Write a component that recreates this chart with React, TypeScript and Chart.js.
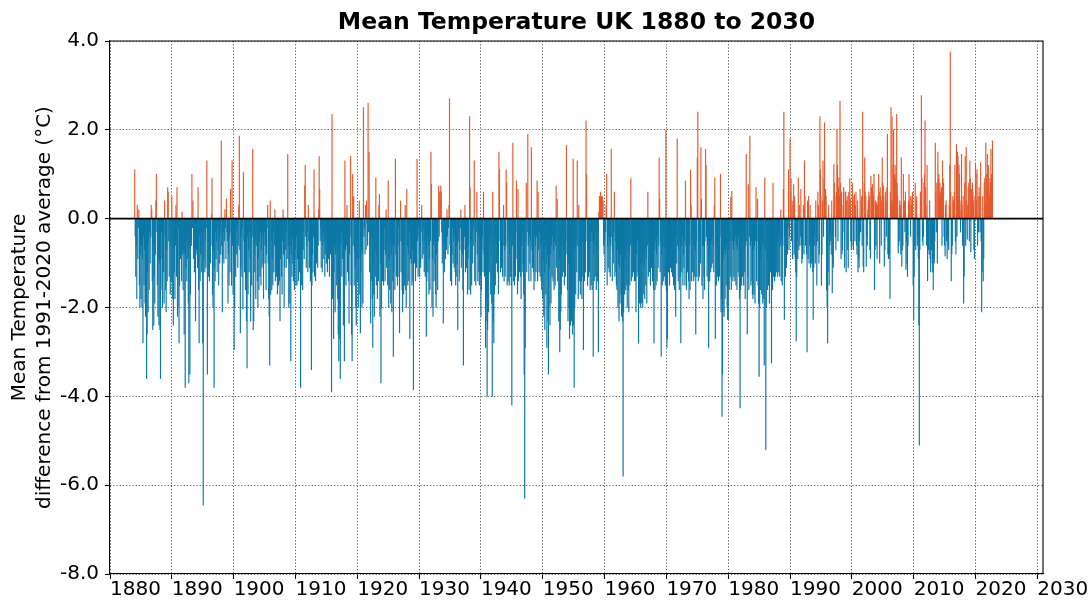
import React, { useEffect, useRef } from 'react';
import { Chart, registerables } from 'chart.js';

Chart.register(...registerables);

// ---------- text ----------
const TITLE = 'Mean Temperature UK 1880 to 2030';
const Y_TITLE = ['Mean Temperature', 'difference from 1991-2020 average (°C)'];

// ---------- axes ----------
const X_MIN = 1880;
const X_MAX = 2030.92;
const X_TICKS = [1880, 1890, 1900, 1910, 1920, 1930, 1940, 1950, 1960, 1970, 1980, 1990, 2000, 2010, 2020, 2030];
const Y_MIN = -8;
const Y_MAX = 4;
const Y_TICKS = [-8, -6, -4, -2, 0, 2, 4];

// ---------- data: monthly anomalies (°C), 12 values per year, from Jan 1884 ----------
const START_YEAR = 1884;

const m1880s = [
  1.1, -0.4, -1.3, -0.6, -1.8, 0.3, -0.9, -0.2, 0.2, -1.5, -2.0, -0.8,
  -1.8, -0.6, -2.0, -0.9, -2.8, -0.4, -1.5, -0.7, -1.9, -2.2, -1.1, -3.6,
  -2.6, -1.2, -2.1, -0.5, -1.6, -0.3, -1.0, -0.4, 0.3, 0.2, -1.4, -2.5,
  -0.6, -2.4, -1.3, -1.9, -0.8, 0.4, 1.0, -0.3, -1.5, -2.2, -0.9, -2.4,
  -1.0, -2.5, -3.6, -0.9, -0.3, -1.6, -2.0, -0.8, -1.2, -1.9, 0.4, -0.4,
  -1.6, -2.1, -0.7, -1.4, 0.7, 0.6, -0.5, -1.3, -0.2, -1.7, -0.6, -1.4,
];

const m1890s = [
  0.5, -1.8, -0.4, -2.4, -0.7, -1.2, -1.8, -0.6, 0.3, -1.3, 0.7, -2.2,
  -2.0, -0.2, -2.8, -1.5, -0.6, -0.9, -0.4, -1.4, 0.15, -0.8, -1.6, -0.7,
  -2.6, -0.8, -3.8, -1.1, -0.5, -1.4, -0.9, -0.3, -1.9, -3.7, -0.6, -3.5,
  -1.7, -0.3, -0.6, 1.0, -0.2, 0.4, -0.9, -0.1, -1.2, -0.5, -2.3, -0.8,
  -0.7, -0.3, -1.1, 0.7, -1.6, -2.8, -0.4, -1.4, -0.8, -0.3, -1.2, -0.6,
  -2.8, -6.45, -0.9, -0.3, -1.2, -0.5, -1.1, -0.2, 1.3, -3.5, -0.4, -1.3,
  -0.5, -1.4, -0.3, -1.0, -0.6, 0.1, 0.9, -1.7, -2.0, -0.7, -3.8, -1.1,
  -1.4, -0.3, -0.9, -0.5, -1.2, -0.2, -0.7, -1.5, -0.4, -1.0, -0.3, -0.8,
  1.75, -0.6, -2.1, -0.9, -0.3, -1.0, -0.5, 0.2, -0.2, -0.9, 0.44, -0.3,
  -0.5, -1.9, -0.8, -1.5, -0.4, -1.2, 0.66, -0.3, -1.5, 1.3, -0.6, -1.7,
];

const m1900s = [
  -1.0, -2.95, -2.0, -0.7, -1.3, -0.3, -0.8, -0.2, -1.1, -0.6, 0.3, 1.86,
  -0.7, -2.57, -1.1, -0.4, -1.3, -0.2, -2.04, 1.04, -0.5, -1.2, -0.3, -1.6,
  -0.6, -2.3, -3.36, -0.4, -1.7, -0.7, -1.2, -0.3, -0.9, -2.3, -0.5, -1.5,
  -0.4, 1.56, -2.5, -2.3, -0.8, -1.2, -0.5, -1.8, -0.6, -0.2, -1.4, -2.0,
  -0.9, -1.6, -0.5, -1.3, -0.3, -1.5, -0.7, -1.1, -0.4, -1.0, -1.8, -0.6,
  -0.3, -1.0, -0.6, -1.6, -0.8, -0.2, 0.3, -1.0, -1.8, -2.2, -3.3, 0.4,
  -1.7, -0.5, -1.6, -0.9, -1.5, -0.3, -1.2, -0.6, 0.2, -1.4, -0.7, -1.3,
  -0.8, -1.7, -0.4, -1.5, -0.6, -1.4, -2.3, -0.9, -0.3, -1.3, -1.7, -0.5,
  0.2, -0.8, -2.0, -1.1, -0.4, -0.7, -1.1, -0.3, -0.9, 1.45, -0.6, -2.0,
  -1.0, -1.9, -0.6, -3.2, -0.8, -1.3, -0.4, -1.0, -1.4, -0.5, -1.6, -0.9,
];

const m1910s = [
  -0.7, -1.5, -0.4, -1.5, -0.9, -0.3, -1.4, -0.6, -1.2, -0.2, -3.8, -0.8,
  -1.5, -0.5, -1.6, -0.7, -0.3, -0.9, 0.74, 1.2, -0.4, -1.1, -0.6, -0.3,
  -1.2, 0.3, -0.5, -1.1, -0.2, -1.4, -0.6, -3.4, -1.5, -0.8, -1.2, -0.4,
  1.1, -1.3, -0.4, -1.4, -0.7, -1.0, -0.3, -1.1, -0.6, 0.2, 1.4, 0.66,
  -0.5, -0.2, -1.1, -0.4, -1.2, -0.6, -0.3, -0.9, -0.5, -1.3, -0.8, -0.4,
  -1.0, -0.5, -1.2, -0.3, -0.9, -0.6, -1.3, -0.4, -0.8, -0.3, -3.9, 2.35,
  -1.8, -0.9, -2.7, -1.2, -0.6, -2.1, -0.8, -0.4, -1.5, -0.7, -1.8, -2.6,
  -3.2, -2.0, -2.7, -3.6, -0.6, -0.3, -1.3, -0.9, -0.4, -2.4, -1.0, -3.2,
  1.3, -0.7, -1.5, -0.6, 0.3, -1.2, -0.5, -1.4, -2.35, -0.8, -0.4, 1.4,
  -1.5, -2.6, -3.2, 1.0, -0.6, 0.5, -1.5, -0.7, -1.1, -2.0, -2.4, -0.9,
];

const m1920s = [
  -0.5, -1.4, -2.0, -0.9, 0.4, -1.7, -2.57, -1.2, -0.7, -2.0, -0.8, -1.9,
  2.5, -0.4, -0.2, -0.8, 0.3, -0.7, 0.4, -0.1, -0.6, 2.6, -0.3, 1.5,
  -1.2, -0.6, -2.35, -1.4, -0.4, -1.8, -2.9, -1.0, -1.7, -2.2, -0.7, -1.3,
  0.92, -1.5, -0.8, -1.8, -0.5, -1.4, 0.3, 0.55, -2.2, -1.0, -3.7, -2.0,
  -0.6, -1.4, -0.4, -1.5, -0.7, -0.2, -1.4, -0.8, 0.2, -1.1, -0.6, -1.5,
  0.85, -2.0, -0.9, -1.6, -0.5, -1.9, -0.8, -2.1, -0.6, -1.4, -3.1, -1.2,
  -0.6, -1.6, 1.34, -0.8, -1.3, -0.4, -1.5, -0.6, -0.2, -1.3, -2.57, -0.5,
  0.4, -1.2, -0.5, -1.6, -2.1, -0.8, -1.7, -0.6, -1.5, 0.3, -1.6, -2.0,
  0.66, -0.6, -1.5, -0.8, -1.4, -0.3, -2.7, -0.9, -0.5, -1.0, -1.5, -0.7,
  -1.4, -3.85, -0.6, -1.0, -0.4, -1.4, -0.3, -1.1, 1.34, -0.5, -1.3, -0.2,
];

const m1930s = [
  -0.4, -1.3, -0.6, -1.1, -0.3, 0.3, -0.9, -0.5, -0.8, -0.2, -1.2, -0.5,
  -1.3, -0.7, -2.65, -1.4, -0.4, -1.2, -0.6, -1.7, -0.9, -1.6, -0.5, 1.5,
  0.77, -2.0, -0.9, -2.2, -0.6, -1.4, -0.5, -1.0, -1.7, -2.0, -0.8, -0.4,
  -1.6, -0.5, 0.74, -0.4, 0.6, 0.5, 0.74, 0.6, -0.3, -1.0, -0.6, -2.35,
  -0.4, -1.2, -0.5, -0.9, -0.3, -0.7, 0.2, -0.4, -0.8, -0.2, 0.3, 2.7,
  -0.6, -1.4, -0.3, -1.5, -0.8, -0.2, -1.0, -0.5, -1.1, -0.4, -1.2, -1.5,
  -1.3, -0.6, -1.0, -2.5, -0.5, -0.3, -1.4, -0.7, -0.2, 0.2, -1.1, -0.5,
  -0.8, -1.6, -3.3, -0.7, -0.4, 0.3, -1.2, -0.5, -1.1, -0.3, -1.7, -0.9,
  -0.6, -1.6, 2.3, 0.7, -1.7, -0.5, -1.5, -0.3, -1.0, -0.6, -0.2, 1.3,
  -1.4, -0.5, -1.5, -0.3, 0.6, -0.8, -1.4, -0.4, -1.2, -1.5, -0.7, -1.3,
];

const m1940s = [
  -2.2, -1.6, -0.7, -0.4, -1.2, 0.6, -0.8, -1.3, -0.5, -2.9, -2.3, -1.8,
  -4.0, -2.5, -1.0, -2.1, -0.6, -1.2, -0.4, -1.7, -0.8, -1.9, -4.0, 0.6,
  -2.3, -2.8, -1.7, -0.6, -1.5, -0.4, -1.0, -0.3, -1.2, -0.7, -1.7, 1.5,
  1.1, -0.5, -1.2, -0.3, -1.1, -0.4, -1.3, -0.6, 0.3, -1.4, -0.7, -1.3,
  -0.6, 1.1, 0.8, -1.5, -0.5, -1.4, -0.3, -1.5, -0.8, -1.3, -0.4, -1.5,
  -4.2, -0.6, 1.7, -1.4, -0.4, -1.5, -0.7, -1.3, -0.3, 0.85, -0.9, -1.7,
  0.66, -1.4, -0.8, -1.2, -0.4, -1.3, -1.8, -0.6, -1.2, -0.3, -1.0, -1.7,
  -3.5, -6.3, -2.9, -0.5, 0.8, -1.2, -0.3, 1.9, -0.6, -1.4, -0.4, -1.0,
  -0.5, -1.4, 1.6, -0.7, -1.1, -0.3, -1.2, -1.6, -0.4, -1.4, -0.6, -1.2,
  -0.4, 0.85, -1.4, 0.6, -0.7, -1.2, -0.3, -1.3, -0.6, -1.4, -1.6, -0.5,
];

const m1950s = [
  -1.8, -0.9, -2.2, -1.2, -2.5, -0.6, -1.7, -1.0, -2.9, -0.8, -2.3, -3.5,
  -2.0, -1.1, -2.4, -0.8, -1.9, -0.6, -1.3, -0.4, -1.4, -0.7, -1.6, -0.5,
  -1.5, -0.6, 0.74, -1.1, 0.44, -1.4, -0.5, -2.3, -0.9, -3.0, -2.5, -2.1,
  -1.7, -0.6, -1.3, -0.4, -1.2, -0.7, -1.5, -0.3, -1.3, -0.5, 1.65, -0.8,
  -1.6, -2.3, -1.0, -2.0, -2.7, -1.2, -2.4, -1.5, -2.3, -0.9, -2.6, 1.34,
  -2.4, -3.8, -2.0, -0.7, -1.7, -0.5, -1.2, 1.3, -0.6, -1.8, 0.3, -1.4,
  -0.8, -1.7, -0.6, -1.4, -1.8, -0.5, -1.3, -2.95, -0.7, -1.4, -0.4, -1.2,
  2.2, 1.0, -0.5, -1.5, -0.6, -1.3, -0.4, -1.2, -1.6, -0.5, -1.5, -0.3,
  -1.6, -0.5, -3.1, -0.8, -1.4, -0.6, -1.3, -0.4, -1.6, -0.7, -1.4, -0.3,
  -3.0, 0.14, 0.5, 0.4, 0.6, 0.3, 0.5, 0.45, 0.5, 0.4, -0.6, -0.8,
];

const m1960s = [
  -0.5, -1.2, -0.3, 0.3, 1.0, -1.5, -0.6, -1.1, -0.4, -1.2, -0.5, -1.3,
  -0.6, 1.56, -0.4, -1.4, -0.7, -1.0, -0.3, 0.6, -1.3, -0.5, -1.2, -1.5,
  -1.6, -0.7, -2.0, -1.0, -2.3, -1.1, -1.9, -0.8, -1.7, -2.2, -1.0, -2.3,
  -5.8, -2.1, -0.8, -1.7, -0.9, -1.6, -0.6, -1.5, -2.0, -0.7, -1.6, -2.1,
  -0.8, -1.5, -0.6, 0.9, -1.4, -0.5, -1.3, -0.4, -1.2, -0.7, -1.4, -0.6,
  -1.4, -2.1, -0.8, -1.3, -0.5, -1.2, -2.8, -0.9, -1.9, -0.6, -2.0, -1.0,
  -1.9, -1.0, -2.0, -0.8, -1.7, -1.1, -1.8, -0.7, -1.5, -0.9, -1.9, -0.6,
  0.6, -1.3, -0.5, -1.2, -0.4, -1.5, -0.6, -1.1, -0.3, -1.4, -0.7, -1.6,
  -2.8, -0.7, -1.6, -0.5, -1.5, -0.8, -1.4, -0.4, -1.1, -0.6, 1.37, 0.44,
  -1.2, -0.5, -3.1, -0.8, -1.5, -0.6, -1.4, -0.4, -1.3, -0.7, -1.5, 2.0,
];

const m1970s = [
  -1.6, -2.9, -2.7, -0.7, -1.2, -0.5, -1.5, -0.8, -1.1, -0.4, -1.2, -0.7,
  -1.3, -0.6, -1.5, -0.5, -1.6, -0.8, -2.2, -0.4, -1.0, 1.8, -0.6, -1.4,
  -0.7, -1.6, -0.5, -1.3, -2.8, -0.6, -1.2, -0.4, -1.5, -0.8, -1.1, -0.5,
  -1.5, 0.85, -0.6, -1.6, -0.5, -1.2, -0.7, -1.4, -1.8, -0.6, -1.6, 1.1,
  0.3, -1.4, -0.5, -1.2, -0.4, -1.4, -0.6, -1.3, -0.7, -2.6, -0.5, -1.3,
  1.37, 2.4, -1.4, -0.5, -1.3, -0.4, -1.0, 1.6, 0.44, -1.5, -0.6, -1.8,
  -0.6, -1.3, -1.6, -0.5, 1.56, 1.2, -0.4, -1.3, -0.6, -1.4, -2.9, -0.8,
  -1.4, -0.6, -1.2, -0.5, -1.1, -0.4, -1.0, -0.6, -1.2, 0.3, 0.92, -2.7,
  -0.7, -1.5, -0.5, -1.3, -0.6, -1.4, -0.8, -1.3, -0.4, 1.0, -2.1, -1.8,
  -4.45, -3.5, -2.1, -0.9, -2.2, -0.7, -1.8, -0.8, -1.5, -0.6, -2.0, -2.27,
];

const m1980s = [
  -2.27, -0.7, -1.6, -0.5, -1.3, 0.48, -1.6, 0.62, -0.5, -1.4, -0.7, -1.3,
  -0.5, -1.4, -0.4, -1.5, -0.6, -1.6, -0.7, -1.2, -0.4, -1.3, -1.8, -4.26,
  -1.6, -0.6, -1.5, -0.5, -1.3, -0.4, -1.5, -0.7, -1.2, -1.8, -0.6, 1.45,
  -0.5, -2.6, -1.3, 0.77, -1.6, -0.4, 1.86, -0.6, -1.5, -0.5, -1.4, -1.7,
  -1.8, -0.7, -1.7, -0.6, -1.9, -0.5, 0.7, -1.4, -0.5, 0.44, -1.5, -1.9,
  -3.55, -2.0, -0.9, -1.6, -0.7, -1.7, -0.5, -1.9, -0.6, -1.8, -3.3, 0.92,
  -0.7, -5.2, -2.0, -0.9, -1.6, -0.4, -1.5, -0.6, -1.9, -0.5, -1.2, -0.7,
  -3.25, -0.6, -1.6, 0.8, -1.3, -0.5, -1.4, -0.4, -1.3, -0.6, -1.2, -0.4,
  -1.3, -0.5, -1.2, -0.4, -1.3, -0.6, 0.2, -1.4, -0.5, -1.5, -0.6, 0.66,
  2.4, -2.27, -0.4, -1.3, -0.3, -1.1, -0.5, -0.8, -0.2, 1.1, -0.7, -0.4,
];

const m1990s = [
  1.8, 0.6, 0.9, -0.5, 0.4, -0.9, 0.3, 0.77, -0.8, 0.5, -0.9, -1.2,
  -2.75, -1.3, -0.5, -0.9, 0.92, -0.7, 0.3, -0.6, -0.4, 0.66, -0.6, -1.0,
  -0.9, -0.6, 0.3, -0.8, 1.3, 0.5, -0.6, -0.5, -0.8, -3.0, 0.4, -0.9,
  0.5, -1.0, -0.6, 0.3, -1.1, -0.5, -1.0, -0.8, -1.2, -2.27, -1.1, -0.6,
  -0.4, -1.0, 0.4, -0.6, -1.5, -0.5, 0.6, 0.3, -1.0, -0.8, 2.3, 1.1,
  0.5, -1.5, -0.8, 0.4, 1.3, -0.4, 0.9, 2.16, 0.3, 0.66, 0.5, -1.6,
  -2.0, -2.8, -1.2, 0.3, -1.5, -0.6, -0.3, -0.5, -0.8, 0.4, -1.67, -1.0,
  -1.1, 1.22, 0.8, 0.5, -0.4, -0.7, 0.6, 2.0, 1.2, -0.5, 0.7, 0.92,
  0.5, 2.65, 0.8, -0.9, 0.6, -0.8, -0.7, 0.3, 0.7, -0.3, -1.1, 0.6,
  0.6, -1.2, 0.4, 0.5, -0.7, -1.1, 0.6, 0.3, 0.9, 0.44, -0.5, -0.7,
];

const m2000s = [
  -0.6, 0.8, 0.4, -0.7, 0.5, 0.55, -0.5, 0.3, 0.6, -0.6, -0.8, 0.4,
  -1.2, -0.9, -1.1, -0.5, 0.66, -0.3, 0.4, 0.5, -0.6, 2.4, -1.07, -1.2,
  0.8, 1.37, 0.6, 0.5, -1.07, -0.4, -0.6, 0.2, 0.4, 0.6, 0.5, -0.7,
  -0.9, 0.96, 0.7, 0.5, 0.77, 0.6, 0.5, 1.0, -1.6, -0.7, 0.4, -0.6,
  0.36, -0.9, 0.3, 0.5, 1.0, 0.6, -1.0, 0.7, 0.5, -0.6, 0.4, 1.37,
  0.8, 0.74, 0.5, -1.07, -0.7, 0.6, 0.4, -0.4, 0.7, 1.9, -0.8, -0.9,
  -0.9, -0.8, -1.8, 0.6, 2.5, 0.4, 2.3, 0.3, 1.2, 2.0, 0.8, 1.0,
  1.2, 0.9, 0.6, 2.35, 0.8, 0.5, -0.77, -0.6, -0.5, 0.4, 0.3, -0.8,
  1.37, -1.07, -0.7, -0.6, 1.0, 0.3, 0.4, -0.3, 0.6, -1.14, -0.5, -1.0,
  -1.3, -0.6, 0.4, 1.0, 0.3, 0.5, -0.4, 0.5, 0.3, 0.4, 0.6, -1.5,
];

const m2010s = [
  -2.27, -1.3, -0.6, 0.8, -0.7, 0.4, 0.5, -0.6, -0.4, -0.9, -2.4, -5.1,
  -0.7, 0.6, 0.5, 2.77, 0.9, -0.5, -0.6, -0.4, 0.8, 1.0, 2.2, 0.7,
  0.3, -0.6, 1.2, -1.4, -0.6, -0.7, -0.8, 0.4, -0.9, -1.2, -0.6, -0.7,
  -1.0, -1.2, -1.6, -0.9, -1.0, -0.5, 1.7, 0.6, -0.3, 0.8, -1.0, 1.5,
  0.9, 1.0, 0.5, 0.8, 0.6, 0.4, 0.7, -0.6, 1.3, 0.9, 0.8, -0.4,
  -0.6, -0.84, 0.3, 0.4, -0.5, -0.9, -0.4, -0.6, -0.7, 0.3, 1.2, 3.75,
  0.6, -1.4, -0.8, -0.6, 0.5, 0.4, 0.3, 0.6, 1.2, -0.5, -0.8, 1.67,
  -0.4, 1.5, 1.4, 0.5, 1.2, 1.0, 0.4, -0.3, 0.2, 1.45, 0.3, -0.6,
  0.5, -1.9, -1.3, 0.8, 1.4, -0.6, 1.6, 0.4, -0.46, 0.3, 0.7, 0.8,
  -0.5, 1.3, 0.9, -0.75, 0.66, 0.3, 0.8, 0.6, 0.4, -0.7, -0.9, 0.5,
];

const m2020s = [
  1.22, 1.0, 0.4, 1.1, -0.6, 0.5, -0.3, 0.7, 0.5, -0.3, 1.26, -0.5,
  -2.1, -1.2, 0.5, -1.4, -0.9, 0.8, 0.9, 0.3, 1.7, 1.0, 0.6, 1.45,
  0.7, 1.2, 0.6, 0.5, 0.9, 0.8, 1.56, 1.0, 0.7, 1.75,
];

// ---------- style ----------
const RED = '#e45a2e';
const BLUE = '#0c78a6';
const GRID = '#5a5a5a';
const FONT = 'DejaVu Sans';

const monthly = [
  ...m1880s, ...m1890s, ...m1900s, ...m1910s, ...m1920s, ...m1930s,
  ...m1940s, ...m1950s, ...m1960s, ...m1970s, ...m1980s, ...m1990s,
  ...m2000s, ...m2010s, ...m2020s,
];

const overlayPlugin = {
  id: 'overlay',
  afterDatasetsDraw(chart: any) {
    const { ctx, chartArea: a, scales } = chart;
    const y0 = scales.y.getPixelForValue(0);
    ctx.save();
    ctx.strokeStyle = '#000';
    ctx.lineWidth = 1.6;
    ctx.beginPath();
    ctx.moveTo(a.left, y0);
    ctx.lineTo(a.right, y0);
    ctx.stroke();
    ctx.lineWidth = 1.1;
    ctx.beginPath();
    ctx.moveTo(a.left, a.top);
    ctx.lineTo(a.right, a.top);
    ctx.lineTo(a.right, a.bottom);
    ctx.stroke();
    ctx.fillStyle = '#000';
    ctx.font = `bold 23.5px "${FONT}"`;
    ctx.textAlign = 'center';
    ctx.textBaseline = 'alphabetic';
    ctx.fillText(TITLE, (a.left + a.right) / 2, 29);
    ctx.restore();
  },
};

export default function App() {
  const ref = useRef<HTMLCanvasElement | null>(null);

  useEffect(() => {
    if (!ref.current) return;
    Chart.defaults.font.family = FONT;
    Chart.defaults.color = '#000';
    const points = monthly.map((v, i) => ({ x: START_YEAR + i / 12, y: v }));
    const chart = new Chart(ref.current, {
      type: 'bar',
      data: {
        datasets: [
          {
            data: points as any,
            backgroundColor: points.map((p) => (p.y >= 0 ? RED : BLUE)),
            borderWidth: 0,
            barPercentage: 1,
            categoryPercentage: 1,
          },
        ],
      },
      options: {
        animation: false,
        responsive: true,
        maintainAspectRatio: false,
        layout: { padding: { left: 0, top: 41, right: 49, bottom: 0 } },
        plugins: {
          legend: { display: false },
          title: { display: false },
          tooltip: { enabled: false },
        },
        scales: {
          x: {
            type: 'linear',
            min: X_MIN,
            max: X_MAX,
            offset: false,
            afterBuildTicks: (s: any) => {
              s.ticks = X_TICKS.map((v) => ({ value: v }));
            },
            afterFit: (s: any) => {
              s.height = 30;
              s.paddingLeft = 0;
              s.paddingRight = 0;
            },
            grid: {
              offset: false,
              color: GRID,
              lineWidth: 1,
              drawTicks: true,
              tickLength: 5,
              tickColor: '#000',
              tickWidth: 1.1,
            },
            border: { display: true, color: '#000', width: 1.1, dash: [1.2, 2] },
            ticks: {
              align: 'start',
              padding: 0,
              autoSkip: false,
              maxRotation: 0,
              minRotation: 0,
              color: '#000',
              font: { family: FONT, size: 20, lineHeight: 1.1 },
              callback: (v: any) => String(v),
            },
          },
          y: {
            type: 'linear',
            min: Y_MIN,
            max: Y_MAX,
            afterBuildTicks: (s: any) => {
              s.ticks = Y_TICKS.map((v) => ({ value: v }));
            },
            afterFit: (s: any) => {
              s.width = 110;
            },
            grid: {
              color: GRID,
              lineWidth: 1,
              drawTicks: true,
              tickLength: 5,
              tickColor: '#000',
              tickWidth: 1.1,
            },
            border: { display: true, color: '#000', width: 1.1, dash: [1.2, 2] },
            ticks: {
              padding: 6,
              autoSkip: false,
              color: '#000',
              font: { family: FONT, size: 20 },
              callback: (v: any) => Number(v).toFixed(1),
            },
            title: {
              display: true,
              text: Y_TITLE,
              color: '#000',
              font: { family: FONT, size: 20, lineHeight: 1.25 },
              padding: { top: 7, bottom: 0 },
            },
          },
        },
      } as any,
      plugins: [overlayPlugin],
    });
    return () => chart.destroy();
  }, []);

  return (
    <div style={{ position: 'fixed', left: 0, top: 0, width: '100vw', height: '100vh' }}>
      <canvas ref={ref} />
    </div>
  );
}
